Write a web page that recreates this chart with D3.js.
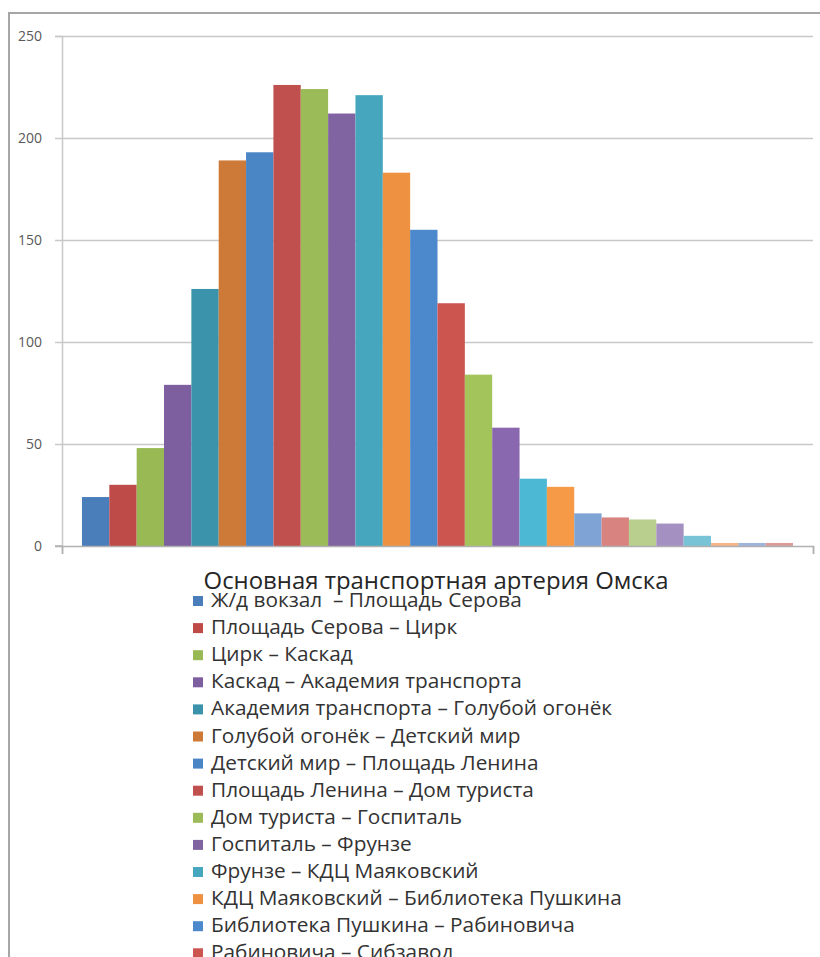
<!DOCTYPE html>
<html><head><meta charset="utf-8">
<script src="https://cdn.jsdelivr.net/npm/d3@7"></script>
<style>
html,body{margin:0;padding:0;background:#fff;overflow:hidden}
svg{display:block}
text{white-space:pre}
</style></head>
<body>
<script>
// ---- data ----
const chartTitle = "Основная транспортная артерия Омска";
const seriesNames = [
  "Ж/д вокзал  – Площадь Серова",
  "Площадь Серова – Цирк",
  "Цирк – Каскад",
  "Каскад – Академия транспорта",
  "Академия транспорта – Голубой огонёк",
  "Голубой огонёк – Детский мир",
  "Детский мир – Площадь Ленина",
  "Площадь Ленина – Дом туриста",
  "Дом туриста – Госпиталь",
  "Госпиталь – Фрунзе",
  "Фрунзе – КДЦ Маяковский",
  "КДЦ Маяковский – Библиотека Пушкина",
  "Библиотека Пушкина – Рабиновича",
  "Рабиновича – Сибзавод"
];
const seriesValues = [24, 30, 48, 79, 126, 189, 193, 226, 224, 212, 221, 183, 155, 119, 84, 58, 33, 29, 16, 14, 13, 11, 5, 1.5, 1.5, 1.5];
const yTicks = [0, 50, 100, 150, 200, 250];

const palette = ["#4A7EBB","#BE4B48","#98B954","#7D5FA0","#3B93AB","#CD7A38",
  "#4A85C6","#C0504D","#9BBB59","#8064A2","#45A6BE","#EE9242",
  "#4B88CC","#CD5550","#A3C45B","#8A68AF","#4DB8D4","#F79A48",
  "#7EA3D4","#D8837F","#B8CF8E","#A491C2","#78C4D6","#F8B587","#9DB5DB","#DC9C9A"];

const W = 820, H = 957;
const svg = d3.select("body").append("svg").attr("width", W).attr("height", H);

// chart border
svg.append("rect").attr("x", 9).attr("y", 13).attr("width", 900).attr("height", 1000)
  .attr("fill", "#fff").attr("stroke", "#a6a6a6").attr("stroke-width", 2);

const plot = {left: 62, right: 813, top: 36, bottom: 546};
const y = d3.scaleLinear().domain([0, 250]).range([plot.bottom, plot.top]);
const x = d3.scaleBand().domain(d3.range(seriesValues.length))
  .range([plot.left, plot.right]).paddingInner(0).paddingOuter(0.73);

// gridlines + y axis
const yAxis = d3.axisLeft(y).tickValues(yTicks).tickSize(7).tickPadding(13).tickFormat(d3.format("d"));
const gy = svg.append("g").attr("transform", `translate(${plot.left},0)`).call(yAxis);
gy.select(".domain").attr("stroke", "#c8c8c8").attr("stroke-width", 1.5);
gy.selectAll(".tick line").attr("stroke", "#c8c8c8").attr("stroke-width", 1.5);
gy.selectAll(".tick text").attr("fill", "#595959").attr("font-family", "'Open Sans', sans-serif").attr("font-size", 14);
svg.append("g").selectAll("line").data(yTicks.filter(d => d > 0)).join("line")
  .attr("x1", plot.left).attr("x2", plot.right)
  .attr("y1", d => Math.round(y(d)) + 0.5).attr("y2", d => Math.round(y(d)) + 0.5)
  .attr("stroke", "#c8c8c8").attr("stroke-width", 1.5);

// bars
svg.append("g").selectAll("rect").data(seriesValues).join("rect")
  .attr("x", (d, i) => x(i)).attr("width", x.bandwidth())
  .attr("y", d => y(d)).attr("height", d => y(0) - y(d))
  .attr("fill", (d, i) => palette[i]);

// category axis
const gx = svg.append("g").attr("transform", `translate(0,${plot.bottom})`)
  .call(d3.axisBottom(d3.scaleLinear().domain([0, 1]).range([plot.left, plot.right]))
    .tickValues([0, 1]).tickSize(8).tickFormat(""));
gx.select(".domain").attr("stroke", "#b0b0b0").attr("stroke-width", 1.5);
gx.selectAll(".tick line").attr("stroke", "#b0b0b0").attr("stroke-width", 1.5);
svg.append("line").attr("x1", plot.left - 7).attr("x2", plot.left).attr("y1", plot.bottom).attr("y2", plot.bottom)
  .attr("stroke", "#b0b0b0").attr("stroke-width", 1.5);

// title
const title = svg.append("text").attr("x", 436).attr("y", 589).attr("text-anchor", "middle")
  .attr("font-family", "'Open Sans', sans-serif").attr("font-size", 21).attr("fill", "#262626")
  .text(chartTitle);
{ const w = title.node().getComputedTextLength(); title.attr("font-size", 21 * 465 / w); }

// legend
const lg = svg.append("g");
const items = lg.selectAll("g").data(seriesNames).join("g")
  .attr("transform", (d, i) => `translate(193,${601 + i * 27.1})`);
items.append("rect").attr("x", 0).attr("y", -5).attr("width", 10).attr("height", 10)
  .attr("fill", (d, i) => palette[i]);
const lt = items.append("text").attr("x", 18).attr("y", 6)
  .attr("font-family", "'Open Sans', sans-serif").attr("font-size", 17).attr("fill", "#333")
  .text(d => d);
{ const w = lt.nodes()[11].getComputedTextLength(); lt.attr("font-size", 17 * 411 / w); }
</script>
</body></html>
